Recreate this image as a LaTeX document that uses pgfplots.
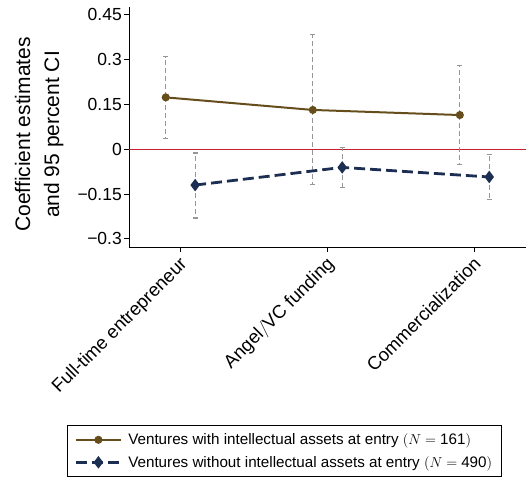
\documentclass[border=0pt]{standalone}
\usepackage{pgfplots}
\pgfplotsset{compat=1.18}
\usepackage{fontspec}
\setmainfont{Liberation Sans}
\definecolor{cbrown}{RGB}{102,78,28}
\definecolor{cnavy}{RGB}{28,46,82}
\definecolor{cred}{RGB}{200,30,50}
\definecolor{cgray}{RGB}{150,150,150}
\begin{document}
\begin{tikzpicture}
\useasboundingbox (-129pt,-238pt) rectangle (398pt,247pt);
\begin{axis}[
  scale only axis, width=397pt, height=240pt,
  xmin=0.65, xmax=3.35, ymin=-0.327, ymax=0.475,
  axis x line*=bottom, axis y line*=left,
  axis line style={black, line width=0.9pt, -},
  tick align=outside, major tick length=5pt,
  tick style={black, line width=0.9pt},
  xtick={1,2,3},
  xticklabels={Full-time entrepreneur, Angel$/$VC funding, Commercialization},
  xticklabel style={rotate=45, anchor=north east, font=\fontsize{18.5}{20}\selectfont, inner sep=1pt, xshift=-3pt, yshift=0pt},
  ytick={-0.3,-0.15,0,0.15,0.3,0.45},
  yticklabels={−0.3,−0.15,0,0.15,0.3,0.45},
  yticklabel style={font=\fontsize{17.5}{19}\selectfont, inner sep=2pt},
  ylabel={Coefficient estimates\\and 95 percent CI},
  ylabel style={align=center, font=\fontsize{21}{29}\selectfont, at={(rel axis cs:-0.226,0.469)}, anchor=center},
  legend style={at={(rel axis cs:-0.156,-0.742)}, anchor=north west, draw=black, line width=0.9pt,
    font=\fontsize{15.2}{19}\selectfont, cells={anchor=west}, row sep=6pt,
    inner xsep=7pt, inner ysep=6pt,
    /tikz/every odd column/.append style={column sep=4pt}},
  legend image code/.code={\draw[mark repeat=2,mark phase=2,#1] plot coordinates {(0pt,0pt) (22.5pt,0pt) (45pt,0pt)};},
  clip=false,
]
\addplot[cred, line width=0.8pt, forget plot] coordinates {(0.65,0) (3.35,0)};
% error bars
\addplot[cgray, only marks, mark=none, forget plot,
  error bars/.cd, y dir=both, y explicit,
  error bar style={cgray, line width=1.1pt, dash pattern=on 5pt off 3pt},
  error mark=-,
  error mark options={rotate=90, cgray, solid, line width=1.1pt, mark size=2.5pt}]
  table[x=x, y=y, y error plus=ep, y error minus=em] {
x y ep em
0.9 0.173 0.136 0.136
1.9 0.131 0.251 0.248
2.9 0.114 0.165 0.164
};
\addplot[cgray, only marks, mark=none, forget plot,
  error bars/.cd, y dir=both, y explicit,
  error bar style={cgray, line width=1.1pt, dash pattern=on 5pt off 3pt},
  error mark=-,
  error mark options={rotate=90, cgray, solid, line width=1.1pt, mark size=2.5pt}]
  table[x=x, y=y, y error plus=ep, y error minus=em] {
x y ep em
1.1 -0.120 0.107 0.110
2.1 -0.061 0.066 0.066
3.1 -0.093 0.075 0.076
};
\addplot[cbrown, line width=2pt, mark=*, mark size=3pt, mark options={solid}] table[x=x, y=y] {
x y
0.9 0.173
1.9 0.131
2.9 0.114
};
\addlegendentry{Ventures with intellectual assets at entry $(N=\mbox{161})$}
\addplot[cnavy, line width=2.8pt, dash pattern=on 11pt off 5pt, mark=diamond*, mark size=4pt, mark options={solid}] table[x=x, y=y] {
x y
1.1 -0.120
2.1 -0.061
3.1 -0.093
};
\addlegendentry{Ventures without intellectual assets at entry $(N=\mbox{490})$}
\end{axis}
\end{tikzpicture}
\end{document}
